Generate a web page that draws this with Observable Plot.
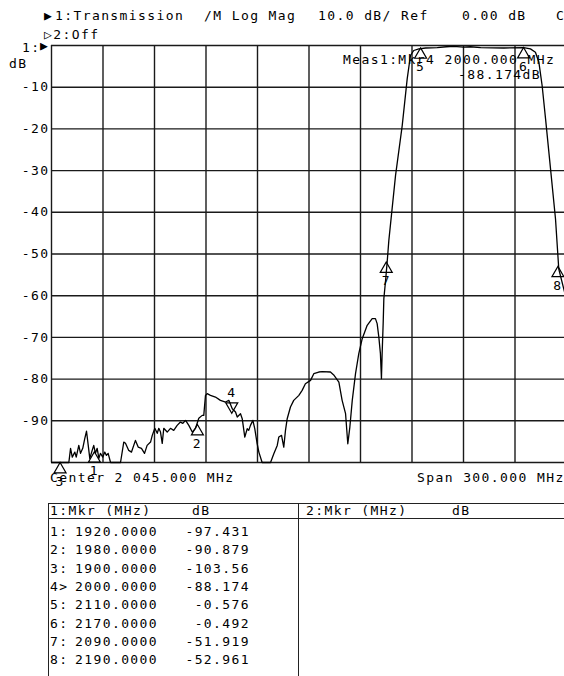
<!DOCTYPE html>
<html>
<head>
<meta charset="utf-8">
<script src="https://cdn.jsdelivr.net/npm/d3@7"></script>
<script src="https://cdn.jsdelivr.net/npm/@observablehq/plot@0.6"></script>
<style>
  html, body { margin: 0; padding: 0; background: #fff; }
  body { width: 564px; height: 676px; overflow: hidden; position: relative;
         font-family: "DejaVu Sans Mono", monospace; color: #000; }
  #chart { position: absolute; left: 0; top: 0; width: 580px; }
  #chart svg { max-width: none !important; width: 580px; height: 470px; }
  .t { position: absolute; font-size: 13px; letter-spacing: 1.4px; white-space: pre;
       line-height: 14px; height: 14px; }
  .r { text-align: right; }
  .hl { position: absolute; height: 1px; background: #222; }
  .vl { position: absolute; width: 1px; background: #222; }
</style>
</head>
<body>
<div id="chart"></div>
<div id="overlay"></div>
<script>
// ---- data ----
const startMHz = 1895, stopMHz = 2195;                 // Center 2045, Span 300
const xGrid = [1895, 1925, 1955, 1985, 2015, 2045, 2075, 2105, 2135, 2165, 2195];
const yGrid = [0, -10, -20, -30, -40, -50, -60, -70, -80, -90, -100];
const yLabels = [-10, -20, -30, -40, -50, -60, -70, -80, -90];

const traceFreq = [1895, 1905.1, 1906.1, 1907.1, 1908.6, 1909.4, 1910.9, 1911.9, 1913.2, 1914.4,
  1915.4, 1916.4, 1917.3, 1918.7, 1919.6, 1920.6, 1921.6, 1922.6, 1923.5, 1924.9,
  1926.0, 1927.0, 1928.0, 1929.4, 1935.2, 1937.1, 1938.1, 1940.0, 1941.6, 1943.9,
  1945.5, 1947.4, 1949.2, 1950.7, 1952.7, 1953.7, 1955.2, 1956.6, 1957.5, 1958.5,
  1959.5, 1960.4, 1962.4, 1964.3, 1966.2, 1968.2, 1970.1, 1971.5, 1973.1, 1975.0,
  1977.0, 1978.9, 1980.8, 1982.8, 1983.7, 1984.7, 1985.7, 1987.6, 1990.5, 1993.4,
  1996.4, 1998.3, 2000.3, 2002.2, 2003.2, 2005.1, 2006.1, 2007.6, 2009.0, 2009.9,
  2010.9, 2012.3, 2013.4, 2014.8, 2015.8, 2017.7, 2022.6, 2024.5, 2026.5, 2027.4,
  2029.0, 2030.3, 2031.3, 2032.3, 2034.2, 2036.1, 2039.1, 2041.0, 2042.9, 2045.9,
  2047.8, 2050.7, 2052.7, 2057.5, 2059.4, 2062.4, 2064.3, 2066.3, 2067.6, 2068.8,
  2070.2, 2072.1, 2074.0, 2076.0, 2078.9, 2081.8, 2083.7, 2084.7, 2085.7, 2086.6,
  2087.2, 2087.6, 2088.2, 2088.6, 2089.6, 2090.6, 2091.5, 2095.4, 2099.3, 2102.2,
  2104.1, 2106.0, 2109.0, 2113.0, 2119.7, 2125.0, 2129.3, 2135.0, 2139.1, 2145.0,
  2158.5, 2170.0, 2174.0, 2176.9, 2178.9, 2180.8, 2182.8, 2185.7, 2188.6, 2190.5, 2195];
const traceDb = [-102, -102, -96.6, -98.7, -97.5, -98.7, -95.9, -97.8, -96.6, -94.2,
  -92.5, -95.9, -99.0, -97.1, -95.9, -97.8, -96.6, -99.0, -97.8, -98.7,
  -97.5, -98.3, -97.8, -102, -102, -95.1, -95.4, -97.1, -97.5, -94.7,
  -96.3, -96.6, -97.8, -95.9, -95.1, -93.5, -91.8, -93.0, -91.8, -92.7,
  -95.4, -91.8, -92.7, -91.8, -92.3, -91.1, -90.3, -90.6, -89.9, -91.1,
  -92.7, -91.8, -89.4, -88.7, -88.7, -83.9, -83.5, -83.9, -84.3, -85.1,
  -85.5, -85.1, -87.1, -87.9, -89.1, -88.3, -89.5, -93.9, -91.9, -92.3,
  -91.1, -89.9, -91.9, -95.5, -97.5, -102, -102, -97.9, -95.9, -93.9,
  -93.5, -96.3, -92.3, -89.5, -86.7, -85.1, -83.9, -82.7, -81.1, -80.3,
  -78.7, -78.3, -78.2, -78.3, -79.0, -80.7, -85.1, -88.3, -95.5, -91.5,
  -85.1, -78.7, -73.9, -70.3, -67.1, -65.5, -65.5, -66.7, -70.0, -73.9,
  -79.9, -73.9, -66.7, -60.7, -56.4, -51.6, -46.8, -31.2, -19.2, -8.0,
  -2.4, -1.2, -0.8, -0.6, -0.5, -0.3, -0.2, -0.4, -0.3, -0.5,
  -0.6, -0.5, -0.8, -1.6, -4.0, -9.6, -17.6, -29.6, -41.6, -53.6, -61];

const markerIds  = ["1:", "2:", "3:", "4>", "5:", "6:", "7:", "8:"];
const markerNums = ["1", "2", "3", "4", "5", "6", "7", "8"];
const markerFreq = [1920, 1980, 1900, 2000, 2110, 2170, 2090, 2190];
const markerDb   = [-97.431, -90.879, -103.56, -88.174, -0.576, -0.492, -51.919, -52.961];
const activeMarker = "4";

// ---- tables for the library ----
const trace = traceFreq.map((f, i) => ({f, db: traceDb[i]}));
const markers = markerFreq.map((f, i) => ({n: markerNums[i], id: markerIds[i], f, db: markerDb[i]}));
const upMarkers = markers.filter(m => m.n !== activeMarker);
const downMarkers = markers.filter(m => m.n === activeMarker);

const font = {fontFamily: "DejaVu Sans Mono, monospace", fontSize: "13px", letterSpacing: "1.4px"};

const chart = Plot.plot({
  width: 580, height: 470,
  marginLeft: 51, marginRight: 14, marginTop: 45, marginBottom: 8,
  style: {...font, background: "white", color: "black", overflow: "visible", maxWidth: "none"},
  x: {domain: [startMHz, stopMHz], axis: null},
  y: {domain: [-100, 0], clamp: true, axis: null},
  marks: [
    Plot.ruleX(xGrid, {stroke: "#1a1a1a", strokeWidth: 1.4}),
    Plot.ruleY(yGrid, {stroke: "#1a1a1a", strokeWidth: 1.4}),
    Plot.axisY(yLabels, {tickSize: 0, tickPadding: 2, fontSize: 13, label: null, tickFormat: d => String(d)}),
    Plot.line(trace, {x: "f", y: "db", stroke: "black", strokeWidth: 1.3, curve: "linear"}),
    Plot.dot(upMarkers, {x: "f", y: "db", symbol: "triangle", r: 4.45, dy: 6.9,
      stroke: "black", fill: "none", strokeWidth: 1.2}),
    Plot.dot(downMarkers, {x: "f", y: "db", symbol: "triangle", r: 4.45, rotate: 180, dy: -6.9,
      stroke: "black", fill: "none", strokeWidth: 1.2}),
    Plot.text(upMarkers, {x: "f", y: "db", text: "n", dy: 19, fontSize: 13}),
    Plot.text(downMarkers, {x: "f", y: "db", text: "n", dy: -20, fontSize: 13})
  ]
});
document.getElementById("chart").appendChild(chart);

// ---- annotation texts ----
const ov = document.getElementById("overlay");
function txt(s, x, cy, cls) {
  const d = document.createElement("div");
  d.className = "t" + (cls ? " " + cls : "");
  d.textContent = s;
  if (cls === "r") { d.style.right = (564 - x) + "px"; }
  else d.style.left = x + "px";
  d.style.top = (cy - 7) + "px";
  ov.appendChild(d);
  return d;
}
function hl(x, y, w) { const d = document.createElement("div"); d.className = "hl";
  d.style.left = x + "px"; d.style.top = y + "px"; d.style.width = w + "px"; ov.appendChild(d); }
function vl(x, y, h) { const d = document.createElement("div"); d.className = "vl";
  d.style.left = x + "px"; d.style.top = y + "px"; d.style.height = h + "px"; ov.appendChild(d); }

txt("\u25B6", 44, 16); txt("1:Transmission", 55, 16); txt("/M Log Mag", 204, 16);
txt("10.0 dB/ Ref", 318, 16); txt("0.00 dB", 462, 16); txt("C", 556, 16);
txt("\u25B72:Off", 44, 35);
txt("1:", 22, 48); txt("\u25B6", 40, 46);
txt("dB", 9, 64);
txt("Meas1:Mkr4 2000.000 MHz", 343, 60);
txt("-88.174dB", 458, 75);
txt("Center 2 045.000 MHz", 50, 478);
txt("Span 300.000 MHz", 417, 478);

// marker table
hl(48, 503, 520); hl(48, 518, 520);
vl(48, 503, 180); vl(298, 503, 180);
txt("1:Mkr (MHz)", 50, 511); txt("dB", 192, 511);
txt("2:Mkr (MHz)", 306, 511); txt("dB", 452, 511);
const fmt = v => Math.abs(v) >= 100 ? v.toFixed(2) : v.toFixed(3);
markers.forEach((m, i) => {
  const cy = 532 + i * 18.3;
  txt(m.id, 50, cy);
  txt(m.f.toFixed(4), 75, cy);
  txt(fmt(m.db), 250, cy, "r");
});
</script>
</body>
</html>
